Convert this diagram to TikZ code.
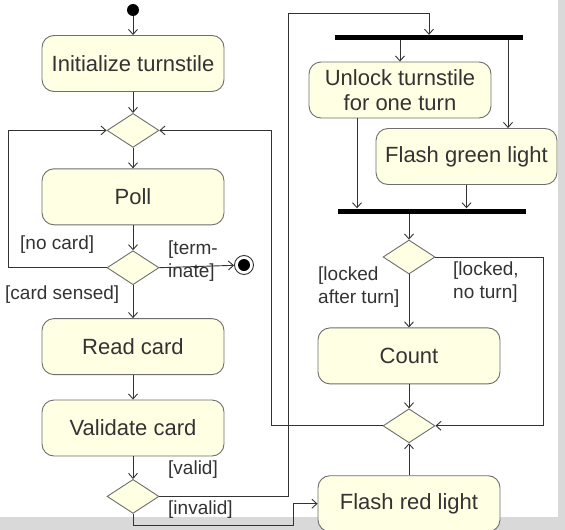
\documentclass[tikz,border=0pt]{standalone}
\usepackage{fontspec}
\setmainfont{Liberation Sans}
\usetikzlibrary{positioning,arrows.meta,shapes.geometric}
\definecolor{actfill}{HTML}{FFFFE3}
\definecolor{actline}{HTML}{6E6E6E}
\definecolor{flowline}{HTML}{333333}
\definecolor{pagegray}{HTML}{D9D9D9}

\begin{document}
\begin{tikzpicture}[x=1pt, y=-1pt, >={Straight Barb[length=5pt,width=9pt]},
    every node/.style={text=flowline},
    action/.style={rectangle, rounded corners=12pt, draw=actline, fill=actfill, line width=0.9pt,
                   minimum width=182pt, minimum height=56pt, inner sep=0pt, align=center,
                   font=\fontsize{22}{25}\selectfont},
    decision/.style={diamond, draw=actline, fill=actfill, line width=0.9pt,
                     minimum width=52pt, minimum height=34pt, inner sep=0pt},
    bar/.style={rectangle, fill=black, minimum width=188pt, minimum height=5pt, inner sep=0pt},
    guard/.style={anchor=west, align=left, inner sep=0pt, font=\fontsize{19}{22.5}\selectfont},
    flow/.style={draw=flowline, line width=0.9pt}]
  \useasboundingbox (0,0) rectangle (565,530);
  \fill[pagegray] (558,0) rectangle (565,530);
  \fill[pagegray] (0,517) rectangle (565,530);

  % left column
  \node (start)[circle, fill=black, minimum size=12pt, inner sep=0pt] at (133,10) {};
  \node (init)[action] at (133,63.5) {Initialize turnstile};
  \node (merge1)[decision, below=21pt of init] {};
  \node (poll)[action, below=20.5pt of merge1] {Poll};
  \node (pollchk)[decision, below=25pt of poll] {};
  \node (read)[action, below=33pt of pollchk] {Read card};
  \node (valid)[action, below=24.5pt of read] {Validate card};
  \node (validchk)[decision, below=22.5pt of valid] {};
  \node (final)[circle, draw=flowline, line width=0.9pt, minimum size=19pt, inner sep=0pt] at (244,265) {};
  \fill[black] (final.center) circle[radius=6pt];

  % right column
  \node (fork)[bar] at (429,37.5) {};
  \node (unlock)[action] at (400,90) {Unlock turnstile\\for one turn};
  \node (green)[action, minimum width=181pt] at (466.5,156.5) {Flash green light};
  \node (join)[bar] at (431.5,211) {};
  \node (lockchk)[decision] at (409,257) {};
  \node (count)[action, below=53pt of lockchk] {Count};
  \node (merge2)[decision, below=24pt of count] {};
  \node (red)[action, below=32pt of merge2] {Flash red light};

  \draw[flow,->] (start) -- (init);
  \draw[flow,->] (init) -- (merge1);
  \draw[flow,->] (merge1) -- (poll);
  \draw[flow,->] (poll) -- (pollchk);
  \draw[flow,->] (pollchk) -- (read);
  \draw[flow,->] (read) -- (valid);
  \draw[flow,->] (valid) -- (validchk);
  \draw[flow,->] (pollchk.west) -- ++(-98,0) |- (merge1.west);
  \draw[flow,->] (pollchk.east) -- (final);
  \draw[flow,->] (merge2.west) -- ++(-111,0) |- (merge1.east);
  \draw[flow,->] (validchk.east) -| (288,13) -| (fork.north);
  \draw[flow,->] (validchk.south) |- (293,525) |- (red.west);

  \draw[flow,->] (fork.south -| unlock.north) -- (unlock.north);
  \draw[flow,->] ([xshift=79pt]fork.south) -- ([xshift=79pt]fork.south |- green.north);
  \draw[flow,->] ([xshift=-43pt]unlock.south) -- ([xshift=-43pt]unlock.south |- join.north);
  \draw[flow,->] (green.south) -- (green.south |- join.north);
  \draw[flow,->] (join.south -| lockchk.north) -- (lockchk.north);
  \draw[flow,->] (lockchk) -- (count);
  \draw[flow,->] (count) -- (merge2);
  \draw[flow,->] (red) -- (merge2);
  \draw[flow,->] (lockchk.east) -- ++(108,0) |- (merge2.east);

  % guards
  \node[guard] at (20,245) {[no card]};
  \node[guard] at (168,261) {[term-\\inate]};
  \node[guard] at (5,295) {[card sensed]};
  \node[guard] at (168,470) {[valid]};
  \node[guard] at (168,510) {[invalid]};
  \node[guard] at (318,287) {[locked\\after turn]};
  \node[guard] at (453,282) {[locked,\\no turn]};
\end{tikzpicture}
\end{document}
